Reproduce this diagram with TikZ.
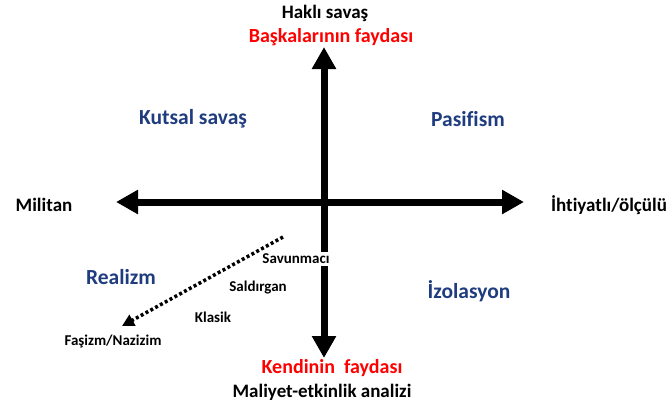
\documentclass[tikz,border=0pt]{standalone}
\usepackage{fontspec}
\setmainfont{Carlito}[Ligatures={NoCommon}]
\usepackage{tikz}
\usetikzlibrary{arrows.meta,positioning}
\definecolor{quadblue}{HTML}{1F3C7E}
\definecolor{benefitred}{HTML}{FF0000}

\tikzset{
    axislabel/.style={font=\fontsize{19}{22}\selectfont\bfseries, text=black},
    redlabel/.style={font=\fontsize{20}{23}\selectfont\bfseries, text=benefitred},
    quadlabel/.style={font=\fontsize{21.5}{25}\selectfont\bfseries, text=quadblue},
    typelabel/.style={font=\fontsize{15}{18}\selectfont\bfseries, text=black},
    bigarrow/.style={line width=7pt, -{Triangle[width=23pt,length=22pt]}}
}

\begin{document}
\begin{tikzpicture}[x=1pt, y=-1pt]
    \useasboundingbox (0,0) rectangle (672,408);

    % Axis ends
    \coordinate (center) at (324,202);
    \coordinate (top) at (324,47);
    \coordinate (bottom) at (324,358);
    \coordinate (left) at (116,202);
    \coordinate (right) at (524,202);

    % Axes
    \draw[bigarrow] (center) -- (top);
    \draw[bigarrow] (center) -- (bottom);
    \draw[bigarrow] (center) -- (left);
    \draw[bigarrow] (center) -- (right);

    % Top and bottom labels
    \node[axislabel] (hakli) at (325,13) {Haklı savaş};
    \node[redlabel] (baskalari) at (331,37) {Başkalarının faydası};
    \node[redlabel] (kendinin) at (332,368) {Kendinin\ \ faydası};
    \node[axislabel] (maliyet) at (322,392) {Maliyet-etkinlik analizi};

    % Left and right labels
    \node[axislabel] (militan) at (44,205) {Militan};
    \node[axislabel] (ihtiyatli) at (609,205) {İhtiyatlı/ölçülü};

    % Quadrants
    \node[quadlabel] (kutsal) at (193,119) {Kutsal savaş};
    \node[quadlabel] (pasifism) at (468,119) {Pasifism};
    \node[quadlabel] (realizm) at (121,277) {Realizm};
    \node[quadlabel] (izolasyon) at (469,291) {İzolasyon};

    % Kinds of realism
    \coordinate (dotstart) at (283,237);
    \coordinate (dotend) at (122,326);
    \draw[line width=3.5pt, dash pattern=on 3pt off 2.5pt, -{Triangle[width=12pt,length=12pt]}] (dotstart) -- (dotend);
    \node[typelabel, fill=white, inner sep=2pt] (savunmaci) at (296,259) {Savunmacı};
    \node[typelabel] (saldirgan) at (258,288) {Saldırgan};
    \node[typelabel] (klasik) at (213,317) {Klasik};
    \node[typelabel] (fasizm) at (113,341) {Faşizm/Nazizim};
\end{tikzpicture}
\end{document}
